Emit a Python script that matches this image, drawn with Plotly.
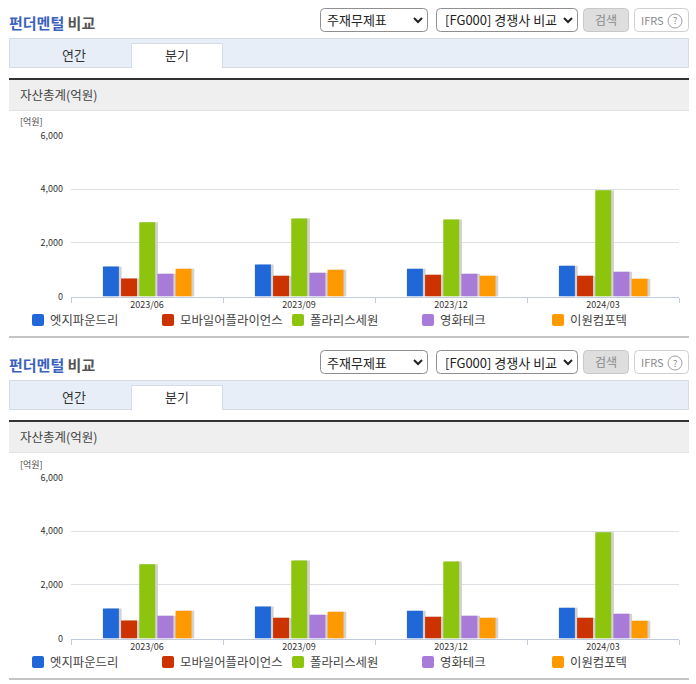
import plotly.graph_objects as go

W, H = 696, 684
FONT = "Noto Sans CJK KR"

# Data
periods = ['2023/06', '2023/09', '2023/12', '2024/03']
companies = ['엣지파운드리', '모바일어플라이언스', '폴라리스세원', '영화테크', '이원컴포텍']
edge_foundry = [1120, 1190, 1035, 1145]
mobile_appliance = [670, 770, 810, 770]
polaris_sewon = [2770, 2910, 2870, 3960]
younghwa_tech = [850, 885, 850, 925]
ewon_comfortech = [1035, 1000, 775, 660]
series = [edge_foundry, mobile_appliance, polaris_sewon, younghwa_tech, ewon_comfortech]
colors = ['#2068D8', '#CC3300', '#8DC40E', '#A87BD8', '#FF9900']
y_ticks = [0, 2000, 4000, 6000]
y_tick_labels = ['0', '2,000', '4,000', '6,000']
legend_x = [32, 162, 292, 422, 552]

PANEL_STEP = 342
BAR_W = 0.105
BAR_STEP = 0.1195

fig = go.Figure()
shapes = []
notes = []


def px(x):
    return x / W


def py(y):
    return 1 - y / H


def box(x0, y0, x1, y1, fill, line=None, r=0, width=1):
    # rounded rectangle in pixel coordinates
    xa, xb, ya, yb = px(x0), px(x1), py(y0), py(y1)
    if r:
        dx, dy = r / W, r / H
        path = (f"M {xa + dx} {ya} L {xb - dx} {ya} Q {xb} {ya} {xb} {ya - dy} "
                f"L {xb} {yb + dy} Q {xb} {yb} {xb - dx} {yb} L {xa + dx} {yb} "
                f"Q {xa} {yb} {xa} {yb + dy} L {xa} {ya - dy} Q {xa} {ya} {xa + dx} {ya} Z")
        shape = dict(type='path', path=path)
    else:
        shape = dict(type='rect', x0=xa, x1=xb, y0=ya, y1=yb)
    shape.update(xref='paper', yref='paper', fillcolor=fill, layer='below',
                 line=dict(color=line or fill, width=width if line else 0))
    shapes.append(shape)


def label(x, y, text, size=12, color='#333333', anchor='left'):
    notes.append(dict(x=px(x), y=py(y), xref='paper', yref='paper', text=text, showarrow=False,
                      xanchor=anchor, yanchor='middle', borderpad=0,
                      font=dict(family=FONT, size=size, color=color)))


def chevron(x, y):
    path = f"M {px(x - 4)} {py(y - 2)} L {px(x)} {py(y + 2)} L {px(x + 4)} {py(y - 2)}"
    shapes.append(dict(type='path', path=path, xref='paper', yref='paper', line=dict(color='#222222', width=2)))


def draw_chrome(d):
    label(8, d + 23, '<span style="color:#3A62BE"><b>펀더멘털</b></span> <b>비교</b>', size=15, color='#555555')

    # selects and buttons
    box(320.5, d + 8.5, 427.5, d + 31.5, '#FFFFFF', '#8F8F8F', r=4)
    label(326, d + 20, '주재무제표', size=13, color='#222222')
    chevron(418, d + 20)
    box(436.5, d + 8.5, 577.5, d + 31.5, '#FFFFFF', '#8F8F8F', r=4)
    label(444, d + 20, '[FG000] 경쟁사 비교', size=13, color='#222222')
    chevron(568, d + 20)
    box(583.5, d + 8.5, 628.5, d + 31.5, '#DEDEDE', '#C8C8C8', r=4)
    label(606, d + 19.5, '검색', size=12, color='#8A8A8A', anchor='center')
    box(634.5, d + 8.5, 688.5, d + 31.5, '#FFFFFF', '#CFCFCF', r=4)
    label(640, d + 20, 'IFRS', size=11, color='#8A8A8A')
    shapes.append(dict(type='circle', xref='paper', yref='paper', x0=px(668), x1=px(682),
                       y0=py(d + 14), y1=py(d + 28), line=dict(color='#A0A0A0', width=1)))
    label(675, d + 21, '?', size=9, color='#8A8A8A', anchor='center')

    # tabs
    box(9.5, d + 38.5, 688.5, d + 67.5, '#E8EEF8', '#D5DCE6')
    box(131.5, d + 43.5, 222.5, d + 68, '#FFFFFF', '#D5DCE6')
    box(132, d + 66, 222, d + 69, '#FFFFFF')
    label(74, d + 55, '연간', size=13, anchor='center')
    label(177, d + 55, '분기', size=13, anchor='center')

    # section header
    box(9, d + 80, 689, d + 110, '#EFEFEF')
    box(9, d + 78, 689, d + 80, '#333333')
    box(9, d + 110, 689, d + 111, '#E2E2E2')
    label(19, d + 95, '자산총계(억원)', size=12.5, color='#444444')
    label(19, d + 122, '[억원]', size=9, color='#444444')

    # legend
    for x, name, color in zip(legend_x, companies, colors):
        box(x, d + 314, x + 12, d + 326, color, r=2)
        label(x + 16.5, d + 320, name, size=12.4, color='#444444')

    box(9, d + 336, 689, d + 338, '#C4C4C4')


for p, d in enumerate([0, PANEL_STEP]):
    suffix = '' if p == 0 else '2'
    draw_chrome(d)
    for i, (name, values, color) in enumerate(zip(companies, series, colors)):
        offset = -0.29 + i * BAR_STEP
        # soft shadow on the right of each bar
        fig.add_trace(go.Bar(x=periods, y=values, width=BAR_W, offset=offset + 0.018,
                             marker=dict(color='#D2D2D2', line_width=0), showlegend=False,
                             hoverinfo='skip', xaxis='x' + suffix, yaxis='y' + suffix))
        fig.add_trace(go.Bar(x=periods, y=values, name=name, width=BAR_W, offset=offset,
                             marker=dict(color=color, line_width=0), showlegend=False,
                             xaxis='x' + suffix, yaxis='y' + suffix))

xaxis_style = dict(
    type='category', range=[-0.5, 3.5], tickson='boundaries', ticks='outside', ticklen=5,
    tickcolor='#C0CCDA', showline=True, linecolor='#C0CCDA', showgrid=False,
    tickfont=dict(family=FONT, size=9, color='#333333'), fixedrange=True,
    domain=[px(71), px(679)],
)
yaxis_style = dict(
    range=[0, 6000], tickvals=y_ticks, ticktext=y_tick_labels, gridcolor='#DDE1E6', zeroline=False,
    showline=False, tickfont=dict(family=FONT, size=9, color='#333333'), ticks='', ticklabelstandoff=7,
    fixedrange=True,
)

fig.update_layout(
    width=W, height=H,
    margin=dict(l=0, r=0, t=0, b=0, autoexpand=False),
    paper_bgcolor='white', plot_bgcolor='white',
    barmode='overlay', showlegend=False,
    xaxis=dict(xaxis_style, anchor='y'),
    yaxis=dict(yaxis_style, anchor='x', domain=[py(296.5), py(135.5)]),
    xaxis2=dict(xaxis_style, anchor='y2'),
    yaxis2=dict(yaxis_style, anchor='x2', domain=[py(296.5 + PANEL_STEP), py(135.5 + PANEL_STEP)]),
    shapes=shapes, annotations=notes,
)

fig.write_html("out.html", config=dict(displayModeBar=False),
               post_script="document.body.style.margin='0';document.body.style.overflow='hidden';")
